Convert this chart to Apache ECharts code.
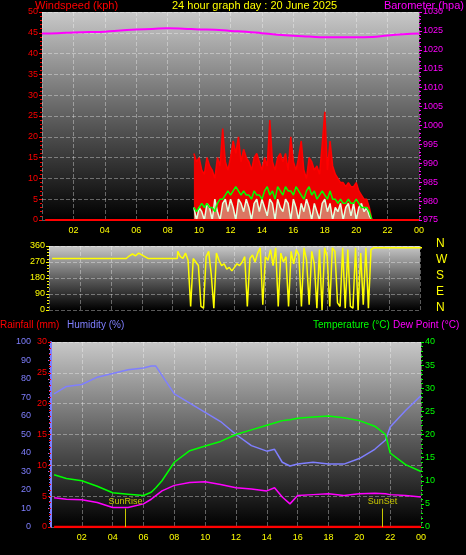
<!DOCTYPE html><html><head><meta charset="utf-8">
<script src="https://cdn.jsdelivr.net/npm/echarts@6/dist/echarts.min.js"></script>
<style>html,body{margin:0;background:#000}#c{width:466px;height:555px}</style></head><body><div id="c"></div>
<script>
// ---- data ----
const hourTicks = ['02','04','06','08','10','12','14','16','18','20','22','00'];
const windStart = 9.67, windStep = 1/6;
const gust = [16,14,15,12,11,15,13,12,10,15,13,22,14,12,15,19,16,20,14,17,15,14,12,15,16,14,12,15,13,24,14,12,15,16,14,16,12,20,14,12,15,19,12,10,15,14,12,13,11,18,26,12,19,13,11,10,9,9,8,9,8,8,9,7,6,5,5,3,0];
const avgWind = [3,2,3,4,3,4,3,3,2,4,5,5,6,7,6,7,8,7,6,7,6,6,5,7,6,6,5,7,8,6,7,5,8,7,6,8,7,7,6,8,7,6,5,7,8,6,7,5,6,7,6,5,7,5,5,4,5,4,4,5,4,4,5,4,3,3,3,2,0];
const windSpd = [3,0,3,2,0,4,3,0,5,2,0,4,5,2,5,3,0,5,4,2,5,3,0,4,5,2,5,3,1,5,4,0,5,3,2,5,4,0,5,3,0,4,2,5,3,0,4,2,0,4,5,2,4,0,3,2,4,0,3,4,1,4,0,3,4,2,3,1,0];
const baroHours = [0,1,2,3,4,5,6,7,8,9,10,11,12,13,14,15,16,17,18,19,20,21,22,23,24];
const baro = [1024.3,1024.4,1024.6,1024.7,1024.8,1025.1,1025.4,1025.5,1025.7,1025.6,1025.4,1025.3,1025.0,1024.8,1024.4,1024.0,1023.7,1023.5,1023.3,1023.3,1023.3,1023.4,1023.8,1024.1,1024.3];
const dirCalmTimes = [0.2,5.0,5.2,5.4,5.6,5.8,6.0,6.2,6.4,8.3];
const dirCalm = [290,290,305,315,305,320,310,300,290,290];
const dirStart = 8.33, dirStep = 1/6;
const dirVar = [330,300,290,320,280,20,290,270,250,20,10,300,330,200,10,320,280,250,260,230,240,220,240,260,250,270,300,20,290,310,270,320,350,30,300,280,340,250,350,20,320,270,300,20,330,260,340,310,20,350,280,30,330,260,10,340,0,350,300,20,350,330,40,20,350,10,340,20,10,350,0,320,30,350,10,340,350];
const dirLateTimes = [21.2,24.2];
const dirLate = [350,350];
const thHours = [0.2,1,2,3,4,5,6,6.5,6.8,7.2,8,9,10,11,12,13,14,14.5,15,15.5,16,17,18,19,20,21,21.7,22,23,24];
const humidity = [72,76,77,81,83,85,86,87,87,82,72,67,62,57,50,44,41,42,35,33,34,35,34,34,37,42,47,54,63,71];
const temperature = [11.3,10.5,10,8.8,7.4,7.1,6.8,7.5,8.5,10,14,16.5,17.5,18.5,20,21,22,22.5,23,23.2,23.5,23.8,24,23.6,23,21.8,20,16,13.5,12];
const dewPoint = [6.3,6,5.9,5.3,4.2,4.2,5,6,6.8,7.8,9,9.6,9.8,9.2,8.5,8.2,7.8,8.5,6.5,5,6.8,7,7.2,6.8,7.2,7.3,7.2,7,6.8,6.5];
const rainHours = [0.2,24];
const rain = [0,0];
const sunRise = 4.83, sunSet = 21.5;

// ---- build ----
const seq = (s, st, arr) => arr.map((v, i) => [s + i*st, v]);
const zip = (t, arr) => arr.map((v, i) => [t[i], v]);
const FONT = 'Liberation Sans';
const bg = {type:'linear',x:0,y:0,x2:0,y2:1,colorStops:[{offset:0,color:'#c8c8c8'},{offset:0.55,color:'#555'},{offset:1,color:'#000'}]};
const grids = [
  {left:42,right:47,top:12,height:208,show:true,backgroundColor:bg,borderWidth:0},
  {left:49,right:46,top:246,height:64,show:true,backgroundColor:bg,borderWidth:0},
  {left:51,right:45,top:342,height:185,show:true,backgroundColor:bg,borderWidth:0}
];
const split = {show:true,lineStyle:{color:'rgba(255,255,255,0.35)',type:'dashed',width:1}};
function xa(i, labels){
  return {type:'value',gridIndex:i,min:0,max:24,interval:2,
    axisLine:{show:false},axisTick:{show:false},splitLine:split,
    axisLabel:{show:labels,color:'#ffff00',fontSize:9,fontFamily:FONT,margin:6,
      formatter:v=>v===0?'':hourTicks[v/2-1]}};
}
function ya(i,min,max,intv,color,pos,offset,showSplit,line){
  return {type:'value',gridIndex:i,min,max,interval:intv,position:pos,offset:offset||0,
    axisLine:{show:!!line,lineStyle:{color,width:offset?2:1}},
    axisTick:{show:true,length:3,lineStyle:{color}},
    minorTick:{show:true,splitNumber:5,length:2,lineStyle:{color}},
    axisLabel:{color,fontSize:9,fontFamily:FONT,margin:4,formatter:v=>String(v)},
    splitLine:showSplit?split:{show:false}};
}
const chart = echarts.init(document.getElementById('c'));
chart.setOption({
  backgroundColor:'#000',animation:false,
  grid:grids,
  xAxis:[xa(0,true),xa(1,false),xa(2,true)],
  yAxis:[
    ya(0,0,50,5,'#ff0000','left',0,true,false),
    ya(0,975,1030,5,'#ff00ff','right',0,false,false),
    ya(1,0,360,90,'#ffff00','left',0,true,false),
    ya(2,0,100,10,'#7f7fff','left',16,false,true),
    ya(2,0,30,5,'#ff0000','left',0,true,false),
    ya(2,0,40,5,'#00ff00','right',0,false,false)
  ],
  graphic:[
    {type:'text',left:35,top:0,style:{text:'Windspeed (kph)',fill:'#ff0000',font:'11px '+FONT}},
    {type:'text',left:172,top:0,style:{text:'24 hour graph day : 20 June 2025',fill:'#ffff00',font:'11px '+FONT}},
    {type:'text',right:2,top:0,style:{text:'Barometer (hpa)',fill:'#ff00ff',font:'11px '+FONT}},
    ...['N','W','S','E','N'].map((t,i)=>({type:'text',left:436,top:238+i*16,style:{text:t,fill:'#ffff00',font:'12px '+FONT}})),
    {type:'text',left:0,top:320,style:{text:'Rainfall (mm)',fill:'#ff0000',font:'10px '+FONT}},
    {type:'text',left:67,top:320,style:{text:'Humidity (%)',fill:'#7f7fff',font:'10px '+FONT}},
    {type:'text',left:313,top:320,style:{text:'Temperature (°C)',fill:'#00ff00',font:'10px '+FONT}},
    {type:'text',left:393,top:320,style:{text:'Dew Point (°C)',fill:'#ff00ff',font:'10px '+FONT}}
  ],
  series:[
    {type:'line',xAxisIndex:0,yAxisIndex:0,data:seq(windStart,windStep,gust),symbol:'none',lineStyle:{color:'#ff0000',width:1.5},areaStyle:{color:'#ee0000',opacity:1}},
    {type:'line',xAxisIndex:0,yAxisIndex:0,data:seq(windStart,windStep,windSpd),symbol:'none',lineStyle:{color:'#e0ffe0',width:1.5},areaStyle:{color:'rgba(200,240,200,0.7)'}},
    {type:'line',xAxisIndex:0,yAxisIndex:0,data:seq(windStart,windStep,avgWind),symbol:'none',lineStyle:{color:'#00ff00',width:1.5}},
    {type:'line',xAxisIndex:0,yAxisIndex:0,data:[[0.2,0],[24,0]],symbol:'none',lineStyle:{color:'#ff0000',width:2}},
    {type:'line',xAxisIndex:0,yAxisIndex:1,data:zip(baroHours,baro),symbol:'none',smooth:true,lineStyle:{color:'#ff00ff',width:2}},
    {type:'line',xAxisIndex:1,yAxisIndex:2,data:zip(dirCalmTimes,dirCalm).concat(seq(dirStart,dirStep,dirVar),zip(dirLateTimes,dirLate)),symbol:'none',lineStyle:{color:'#ffff00',width:1.5}},
    {type:'line',xAxisIndex:2,yAxisIndex:3,data:zip(thHours,humidity),symbol:'none',lineStyle:{color:'#7f7fff',width:1.5}},
    {type:'line',xAxisIndex:2,yAxisIndex:5,data:zip(thHours,temperature),symbol:'none',lineStyle:{color:'#00ff00',width:1.5}},
    {type:'line',xAxisIndex:2,yAxisIndex:5,data:zip(thHours,dewPoint),symbol:'none',lineStyle:{color:'#ff00ff',width:1.5}},
    {type:'line',xAxisIndex:2,yAxisIndex:4,data:zip(rainHours,rain),symbol:'none',lineStyle:{color:'#ff0000',width:2.5},
      markLine:{symbol:'none',silent:true,lineStyle:{color:'#c8c800',type:'solid',width:1},
        data:[[{coord:[sunRise,0],name:'SunRise'},{coord:[sunRise,3]}],[{coord:[sunSet,0],name:'SunSet'},{coord:[sunSet,3]}]],
        label:{show:true,position:'end',formatter:'{b}',color:'#c8c800',fontSize:9,fontFamily:FONT,distance:2}}}
  ]
});
</script></body></html>
